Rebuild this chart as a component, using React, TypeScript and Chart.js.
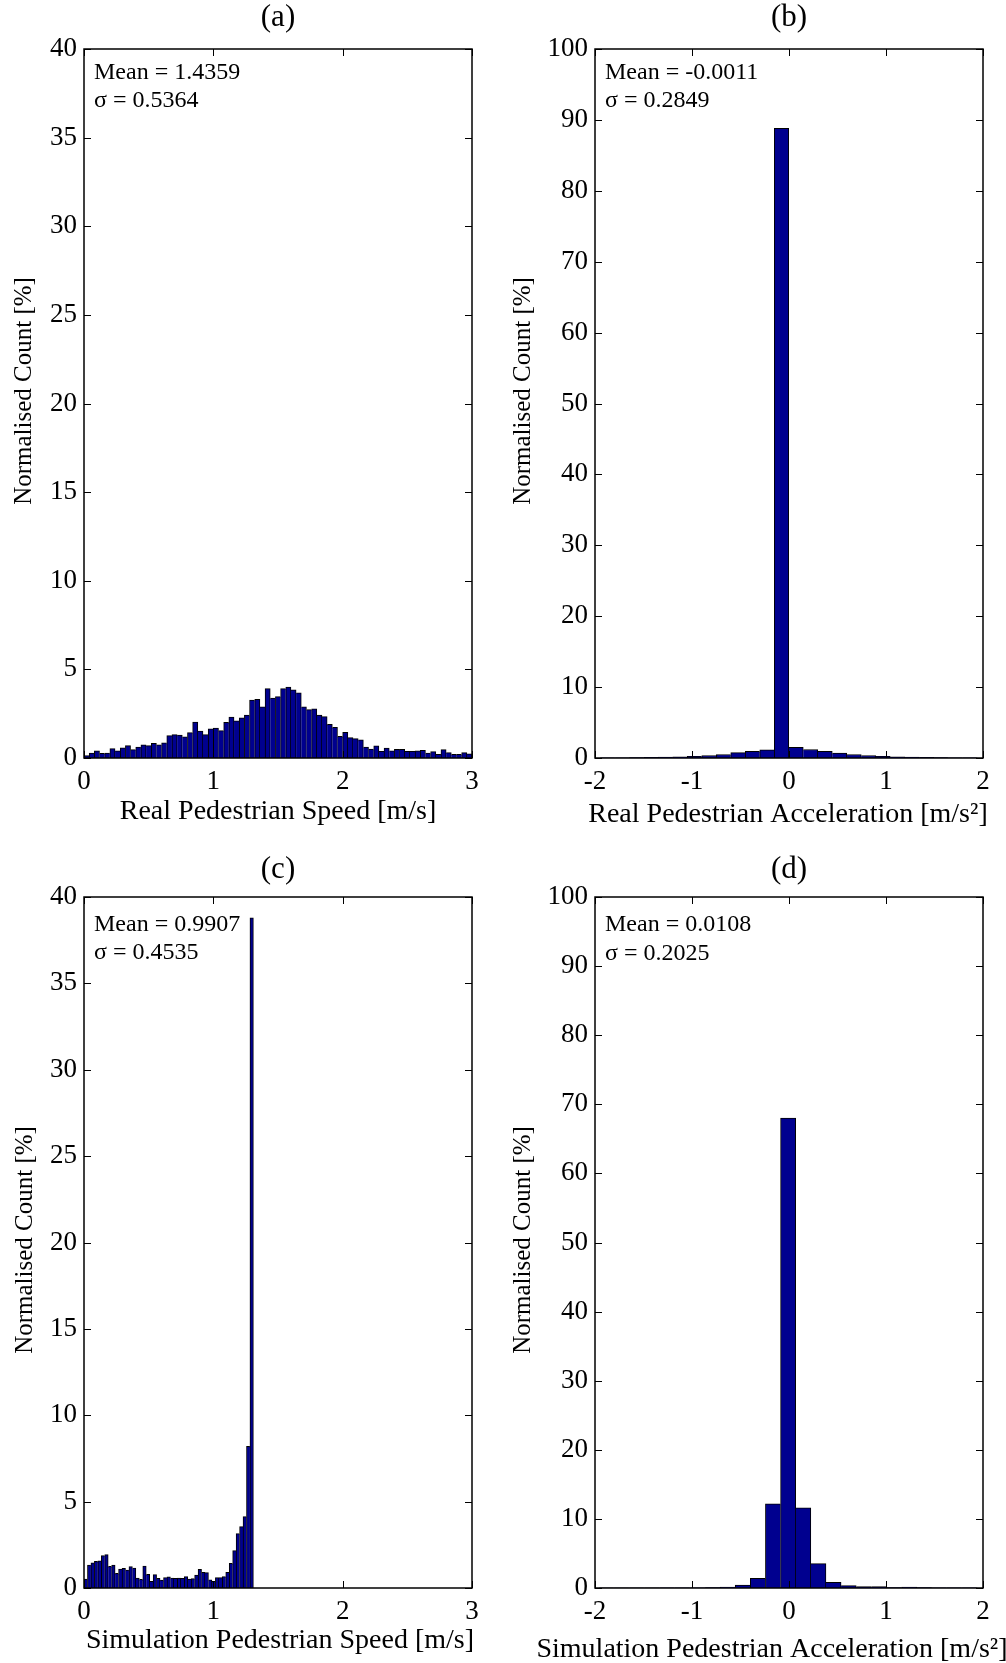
import React, { useEffect, useRef } from "react";
import { Chart, registerables } from "chart.js";

Chart.register(...registerables);

const SERIF = "'Liberation Serif', 'Times New Roman', Times, serif";
const BAR_FILL = "rgb(0, 0, 143)";

// ---------- (a) Real pedestrian speed ----------
const realSpeedBinStart = 0;
const realSpeedBinWidth = 0.04;
const realSpeedCounts = [
  0.13, 0.28, 0.4, 0.26, 0.28, 0.53, 0.41, 0.58, 0.7, 0.47,
  0.62, 0.75, 0.7, 0.83, 0.75, 0.85, 1.26, 1.32, 1.3, 1.2,
  1.43, 2.03, 1.52, 1.32, 1.65, 1.69, 1.54, 2.01, 2.31, 2.1,
  2.26, 2.42, 3.27, 3.31, 2.88, 3.91, 3.38, 3.46, 3.91, 4.0,
  3.85, 3.67, 2.88, 2.73, 2.78, 2.42, 2.33, 1.9, 1.73, 1.22,
  1.45, 1.15, 1.09, 1.02, 0.62, 0.51, 0.68, 0.38, 0.56, 0.41,
  0.49, 0.49, 0.38, 0.38, 0.4, 0.43, 0.28, 0.36, 0.21, 0.47,
  0.3, 0.21, 0.21, 0.3, 0.23,
];
const realSpeedStats = ["Mean = 1.4359", "σ = 0.5364"];

// ---------- (b) Real pedestrian acceleration ----------
const realAccelBinStart = -1.946;
const realAccelBinWidth = 0.1495;
const realAccelCounts = [
  0.03, 0.04, 0.06, 0.08, 0.12, 0.18, 0.25, 0.35, 0.5, 0.75, 0.95, 1.15,
  88.8,
  1.5, 1.2, 0.95, 0.7, 0.5, 0.35, 0.25, 0.17, 0.12, 0.08, 0.06, 0.04, 0.03,
];
const realAccelStats = ["Mean = -0.0011", "σ = 0.2849"];

// ---------- (c) Simulation pedestrian speed ----------
const simSpeedBinStart = 0;
const simSpeedBinWidth = 0.02673;
const simSpeedCounts = [
  0.52, 1.33, 1.45, 1.54, 1.58, 1.87, 1.93, 1.25, 1.33, 0.85,
  1.1, 1.14, 1.04, 1.24, 1.16, 0.58, 0.5, 1.27, 0.79, 0.39,
  0.77, 0.56, 0.46, 0.6, 0.64, 0.58, 0.56, 0.58, 0.56, 0.66,
  0.52, 0.54, 0.75, 1.08, 0.91, 0.89, 0.48, 0.39, 0.6, 0.6,
  0.66, 0.91, 1.43, 2.16, 3.15, 3.55, 4.13, 8.2, 38.8,
];
const simSpeedStats = ["Mean = 0.9907", "σ = 0.4535"];

// ---------- (d) Simulation pedestrian acceleration ----------
const simAccelBinStart = -1.959;
const simAccelBinWidth = 0.156;
const simAccelCounts = [
  0.01, 0.01, 0.01, 0.01, 0.02, 0.02, 0.03, 0.05, 0.14, 0.43, 1.4, 12.18,
  68.0,
  11.6, 3.53, 0.82, 0.34, 0.19, 0.19, 0.05, 0.14, 0.05, 0.03, 0.02, 0.02,
];
const simAccelStats = ["Mean = 0.0108", "σ = 0.2025"];

// ---------- Tick labels ----------
const speedXTicks = [0, 1, 2, 3];
const accelXTicks = [-2, -1, 0, 1, 2];
const speedYTicks = [0, 5, 10, 15, 20, 25, 30, 35, 40];
const accelYTicks = [0, 10, 20, 30, 40, 50, 60, 70, 80, 90, 100];

// ---------- Axis titles ----------
const yTitle = "Normalised Count [%]";
const realSpeedXTitle = "Real Pedestrian Speed [m/s]";
const realAccelXTitle = "Real Pedestrian Acceleration [m/s²]";
const simSpeedXTitle = "Simulation Pedestrian Speed [m/s]";
const simAccelXTitle = "Simulation Pedestrian Acceleration [m/s²]";

type PanelSpec = {
  letter: string;
  counts: number[];
  binStart: number;
  binWidth: number;
  xTicks: number[];
  yTicks: number[];
  xTitle: string;
  stats: string[];
  canvas: { x: number; y: number; w: number; h: number };
  area: { l: number; t: number; r: number; b: number };
  letterY: number;
  xTitleX: number;
  xTitleY: number;
  yTitleX: number;
  yTitleY: number;
  statsY: number[];
};

const panels: PanelSpec[] = [
  {
    letter: "(a)", counts: realSpeedCounts, binStart: realSpeedBinStart, binWidth: realSpeedBinWidth,
    xTicks: speedXTicks, yTicks: speedYTicks, xTitle: realSpeedXTitle, stats: realSpeedStats,
    canvas: { x: 0, y: 0, w: 503, h: 831 }, area: { l: 84, t: 49, r: 472, b: 758 },
    letterY: 18, xTitleX: 278, xTitleY: 812, yTitleX: 24, yTitleY: 391, statsY: [79, 107],
  },
  {
    letter: "(b)", counts: realAccelCounts, binStart: realAccelBinStart, binWidth: realAccelBinWidth,
    xTicks: accelXTicks, yTicks: accelYTicks, xTitle: realAccelXTitle, stats: realAccelStats,
    canvas: { x: 503, y: 0, w: 503, h: 831 }, area: { l: 595, t: 49, r: 983, b: 758 },
    letterY: 18, xTitleX: 788, xTitleY: 815, yTitleX: 523, yTitleY: 391, statsY: [79, 107],
  },
  {
    letter: "(c)", counts: simSpeedCounts, binStart: simSpeedBinStart, binWidth: simSpeedBinWidth,
    xTicks: speedXTicks, yTicks: speedYTicks, xTitle: simSpeedXTitle, stats: simSpeedStats,
    canvas: { x: 0, y: 831, w: 503, h: 832 }, area: { l: 84, t: 897, r: 472, b: 1588 },
    letterY: 870, xTitleX: 280, xTitleY: 1641, yTitleX: 25, yTitleY: 1240, statsY: [931, 959],
  },
  {
    letter: "(d)", counts: simAccelCounts, binStart: simAccelBinStart, binWidth: simAccelBinWidth,
    xTicks: accelXTicks, yTicks: accelYTicks, xTitle: simAccelXTitle, stats: simAccelStats,
    canvas: { x: 503, y: 831, w: 503, h: 832 }, area: { l: 595, t: 897, r: 983, b: 1588 },
    letterY: 870, xTitleX: 772, xTitleY: 1650, yTitleX: 523, yTitleY: 1240, statsY: [931, 960],
  },
];

function HistPanel({ spec }: { spec: PanelSpec }) {
  const ref = useRef<HTMLCanvasElement>(null);

  useEffect(() => {
    const canvas = ref.current;
    if (!canvas) return;
    const c = spec.canvas;
    const area = spec.area;
    const padTop = area.t - c.y;
    const padRight = c.x + c.w - area.r;
    const yAxisWidth = area.l - c.x;
    const xAxisHeight = c.y + c.h - area.b;
    const counts = spec.counts;
    const last = counts.length - 1;

    const data = counts.map((v, i) => ({
      x: spec.binStart + (i + 0.5) * spec.binWidth,
      y: v,
    }));

    const framePlugin = {
      id: "matlabFrame",
      afterDraw(chart: any) {
        const ctx: CanvasRenderingContext2D = chart.ctx;
        const { left, top, right, bottom } = chart.chartArea;
        const xs = chart.scales.x;
        const ys = chart.scales.y;
        const TL = 7;
        ctx.save();
        ctx.strokeStyle = "#000";
        ctx.lineWidth = 1;
        ctx.beginPath();
        for (const t of xs.ticks) {
          const px = Math.round(xs.getPixelForValue(t.value)) + 0.5;
          ctx.moveTo(px, bottom);
          ctx.lineTo(px, bottom - TL);
          ctx.moveTo(px, top);
          ctx.lineTo(px, top + TL);
        }
        for (const t of ys.ticks) {
          const py = Math.round(ys.getPixelForValue(t.value)) + 0.5;
          ctx.moveTo(left, py);
          ctx.lineTo(left + TL, py);
          ctx.moveTo(right, py);
          ctx.lineTo(right - TL, py);
        }
        ctx.stroke();
        ctx.lineWidth = 1.5;
        ctx.strokeRect(left, top, right - left, bottom - top);

        ctx.fillStyle = "#000";
        // panel letter
        ctx.font = `31px ${SERIF}`;
        ctx.textAlign = "center";
        ctx.textBaseline = "middle";
        ctx.fillText(spec.letter, (left + right) / 2, spec.letterY - c.y);
        // x title
        ctx.font = `28px ${SERIF}`;
        ctx.fillText(spec.xTitle, spec.xTitleX - c.x, spec.xTitleY - c.y);
        // y title
        ctx.save();
        ctx.font = `25px ${SERIF}`;
        ctx.translate(spec.yTitleX - c.x, spec.yTitleY - c.y);
        ctx.rotate(-Math.PI / 2);
        ctx.fillText(yTitle, 0, 0);
        ctx.restore();
        // stats
        ctx.font = `24px ${SERIF}`;
        ctx.textAlign = "left";
        ctx.textBaseline = "alphabetic";
        spec.stats.forEach((s, i) => ctx.fillText(s, left + 10, spec.statsY[i] - c.y));
        ctx.restore();
      },
    };

    const tickFont = { family: SERIF, size: 27, lineHeight: 1 };

    const chart = new Chart(canvas, {
      type: "bar",
      data: {
        datasets: [
          {
            data,
            backgroundColor: BAR_FILL,
            borderColor: "#000",
            borderWidth: (ctx: any) => {
              const i = ctx.dataIndex;
              const h = counts[i];
              const leftB = i === 0 || counts[i - 1] < h ? 1 : 0;
              const rightB = i === last || counts[i + 1] <= h ? 1 : 0;
              return { top: 1, left: leftB, right: rightB, bottom: 0 };
            },
            borderSkipped: "start",
            barPercentage: 1,
            categoryPercentage: 1,
          } as any,
        ],
      },
      options: {
        responsive: false,
        animation: false,
        events: [],
        layout: { padding: { left: 0, top: padTop, right: padRight, bottom: 0 } },
        plugins: {
          legend: { display: false },
          tooltip: { enabled: false },
          title: { display: false },
        },
        scales: {
          x: {
            type: "linear",
            position: "bottom",
            min: spec.xTicks[0],
            max: spec.xTicks[spec.xTicks.length - 1],
            offset: false,
            afterBuildTicks: (s: any) => {
              s.ticks = spec.xTicks.map((v) => ({ value: v }));
            },
            afterFit: (s: any) => {
              s.height = xAxisHeight;
            },
            ticks: {
              autoSkip: false,
              maxRotation: 0,
              minRotation: 0,
              padding: 10,
              color: "#000",
              font: tickFont,
              callback: (v: any) => String(v),
            },
            grid: { display: false, drawTicks: false },
            border: { display: false },
          },
          y: {
            type: "linear",
            position: "left",
            min: spec.yTicks[0],
            max: spec.yTicks[spec.yTicks.length - 1],
            afterBuildTicks: (s: any) => {
              s.ticks = spec.yTicks.map((v) => ({ value: v }));
            },
            afterFit: (s: any) => {
              s.width = yAxisWidth;
            },
            ticks: {
              autoSkip: false,
              padding: 7,
              color: "#000",
              font: tickFont,
              callback: (v: any) => String(v),
            },
            grid: { display: false, drawTicks: false },
            border: { display: false },
          },
        },
      } as any,
      plugins: [framePlugin],
    });

    return () => chart.destroy();
  }, [spec]);

  const c = spec.canvas;
  return (
    <canvas
      ref={ref}
      width={c.w}
      height={c.h}
      style={{ position: "absolute", left: c.x, top: c.y, width: c.w, height: c.h, display: "block" }}
    />
  );
}

export default function App() {
  return (
    <div
      style={{
        position: "absolute",
        left: 0,
        top: 0,
        width: 1006,
        height: 1663,
        background: "#fff",
        overflow: "hidden",
      }}
    >
      {panels.map((p) => (
        <HistPanel key={p.letter} spec={p} />
      ))}
    </div>
  );
}
